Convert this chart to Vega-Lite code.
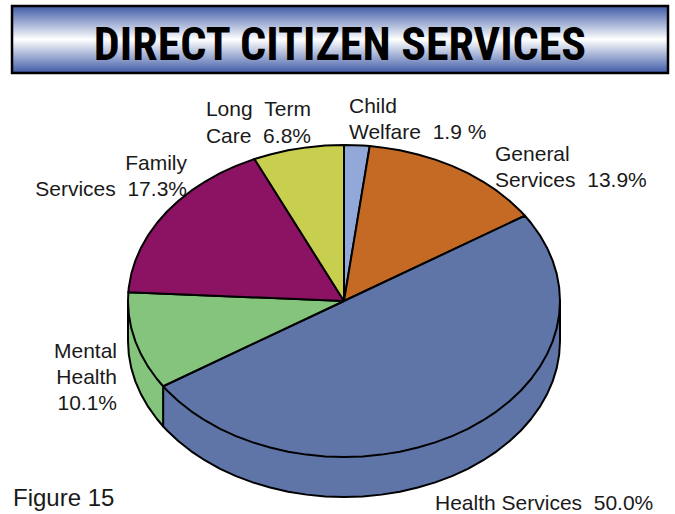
{
  "$schema": "https://vega.github.io/schema/vega-lite/v6.json",
  "width": 675,
  "height": 514,
  "padding": 0,
  "autosize": {"type": "fit", "contains": "padding"},
  "background": "white",
  "view": {"stroke": null},
  "projection": {"type": "identity", "reflectY": true, "scale": 216, "translate": [344, 301]},
  "datasets": {
    "side": [
      {"type": "Feature", "properties": {"slice": "Health Services", "share": 50.0}, "geometry": {"type": "Polygon", "coordinates": [[[1,0],[1,-0.1852],[0.9962,-0.2481],[0.9848,-0.3106],[0.9659,-0.3721],[0.9397,-0.4322],[0.9063,-0.4904],[0.866,-0.5463],[0.8192,-0.5994],[0.766,-0.6494],[0.7071,-0.6959],[0.6428,-0.7384],[0.5736,-0.7768],[0.5,-0.8106],[0.4226,-0.8397],[0.342,-0.8638],[0.2588,-0.8828],[0.1736,-0.8964],[0.0872,-0.9047],[0,-0.9074],[-0.0872,-0.9047],[-0.1736,-0.8964],[-0.2588,-0.8828],[-0.342,-0.8638],[-0.4226,-0.8397],[-0.5,-0.8106],[-0.5736,-0.7768],[-0.6428,-0.7384],[-0.7071,-0.6959],[-0.766,-0.6494],[-0.8192,-0.5994],[-0.8375,-0.5799],[-0.8375,-0.3947],[-0.5,-0.6254],[0,-0.7222],[0.5,-0.6254],[0.866,-0.3611],[1,0]]]}},
      {"type": "Feature", "properties": {"slice": "Mental Health", "share": 10.1}, "geometry": {"type": "Polygon", "coordinates": [[[-0.8375,-0.5799],[-0.866,-0.5463],[-0.9063,-0.4904],[-0.9397,-0.4322],[-0.9659,-0.3721],[-0.9848,-0.3106],[-0.9962,-0.2481],[-1,-0.1852],[-1,0],[-0.8375,-0.3947],[-0.8375,-0.5799]]]}}
    ],
    "slices": [
      {"type": "Feature", "properties": {"slice": "Child Welfare", "share": 1.9}, "geometry": {"type": "Polygon", "coordinates": [[[0,0],[0,0.7222],[0.0872,0.7195],[0.1191,0.7171],[0,0]]]}},
      {"type": "Feature", "properties": {"slice": "General Services", "share": 13.9}, "geometry": {"type": "Polygon", "coordinates": [[[0,0],[0.1191,0.7171],[0.1736,0.7112],[0.2588,0.6976],[0.342,0.6786],[0.4226,0.6545],[0.5,0.6254],[0.5736,0.5916],[0.6428,0.5532],[0.7071,0.5107],[0.766,0.4642],[0.8192,0.4142],[0.8375,0.3947],[0,0]]]}},
      {"type": "Feature", "properties": {"slice": "Health Services", "share": 50.0}, "geometry": {"type": "Polygon", "coordinates": [[[0,0],[0.8375,0.3947],[0.866,0.3611],[0.9063,0.3052],[0.9397,0.247],[0.9659,0.1869],[0.9848,0.1254],[0.9962,0.0629],[1,0],[0.9962,-0.0629],[0.9848,-0.1254],[0.9659,-0.1869],[0.9397,-0.247],[0.9063,-0.3052],[0.866,-0.3611],[0.8192,-0.4142],[0.766,-0.4642],[0.7071,-0.5107],[0.6428,-0.5532],[0.5736,-0.5916],[0.5,-0.6254],[0.4226,-0.6545],[0.342,-0.6786],[0.2588,-0.6976],[0.1736,-0.7112],[0.0872,-0.7195],[0,-0.7222],[-0.0872,-0.7195],[-0.1736,-0.7112],[-0.2588,-0.6976],[-0.342,-0.6786],[-0.4226,-0.6545],[-0.5,-0.6254],[-0.5736,-0.5916],[-0.6428,-0.5532],[-0.7071,-0.5107],[-0.766,-0.4642],[-0.8192,-0.4142],[-0.8375,-0.3947],[0,0]]]}},
      {"type": "Feature", "properties": {"slice": "Mental Health", "share": 10.1}, "geometry": {"type": "Polygon", "coordinates": [[[0,0],[-0.8375,-0.3947],[-0.866,-0.3611],[-0.9063,-0.3052],[-0.9397,-0.247],[-0.9659,-0.1869],[-0.9848,-0.1254],[-0.9962,-0.0629],[-1,0],[-0.9984,0.0408],[0,0]]]}},
      {"type": "Feature", "properties": {"slice": "Family Services", "share": 17.3}, "geometry": {"type": "Polygon", "coordinates": [[[0,0],[-0.9984,0.0408],[-0.9962,0.0629],[-0.9848,0.1254],[-0.9659,0.1869],[-0.9397,0.247],[-0.9063,0.3052],[-0.866,0.3611],[-0.8192,0.4142],[-0.766,0.4642],[-0.7071,0.5107],[-0.6428,0.5532],[-0.5736,0.5916],[-0.5,0.6254],[-0.4226,0.6545],[-0.4144,0.6573],[0,0]]]}},
      {"type": "Feature", "properties": {"slice": "Long Term Care", "share": 6.8}, "geometry": {"type": "Polygon", "coordinates": [[[0,0],[-0.4144,0.6573],[-0.342,0.6786],[-0.2588,0.6976],[-0.1736,0.7112],[-0.0872,0.7195],[0,0.7222],[0,0]]]}}
    ]
  },
  "layer": [
    {
      "description": "Title banner",
      "data": {"values": [{"type": "Feature", "properties": {"name": "banner"}, "geometry": {"type": "Polygon", "coordinates": [[[-1.537,1.3657],[1.5,1.3657],[1.5,1.0556],[-1.537,1.0556],[-1.537,1.3657]]]}}]},
      "mark": {
        "type": "geoshape",
        "stroke": "#000000",
        "strokeWidth": 2.5,
        "fill": {
          "x1": 0, "y1": 0, "x2": 0, "y2": 1,
          "gradient": "linear",
          "stops": [
            {"offset": 0, "color": "#3f5ba6"},
            {"offset": 0.5, "color": "#ffffff"},
            {"offset": 1, "color": "#3f5ba6"}
          ]
        }
      }
    },
    {
      "description": "Rim of the pie, drawn below the top face",
      "data": {"name": "side"},
      "mark": {"type": "geoshape", "stroke": "#000000", "strokeWidth": 2, "strokeJoin": "round"},
      "encoding": {
        "color": {
          "field": "properties.slice", "type": "nominal", "legend": null,
          "scale": {
            "domain": ["Child Welfare", "General Services", "Health Services", "Mental Health", "Family Services", "Long Term Care"],
            "range": ["#92a8d8", "#c56a24", "#5f75a8", "#84c47c", "#8c1264", "#c8cf4e"]
          }
        }
      }
    },
    {
      "description": "Top face of the pie",
      "data": {"name": "slices"},
      "mark": {"type": "geoshape", "stroke": "#000000", "strokeWidth": 2, "strokeJoin": "round"},
      "encoding": {
        "color": {
          "field": "properties.slice", "type": "nominal", "legend": null,
          "scale": {
            "domain": ["Child Welfare", "General Services", "Health Services", "Mental Health", "Family Services", "Long Term Care"],
            "range": ["#92a8d8", "#c56a24", "#5f75a8", "#84c47c", "#8c1264", "#c8cf4e"]
          }
        }
      }
    },
    {
      "description": "Banner heading",
      "data": {"values": [{"label": "DIRECT CITIZEN SERVICES", "lon": -0.0185, "lat": 1.1157}]},
      "mark": {"type": "text", "align": "center", "baseline": "alphabetic", "font": "Roboto Condensed, Arial Narrow, DejaVu Sans Condensed, Liberation Sans", "fontWeight": "bold", "fontSize": 46, "color": "#000000"},
      "encoding": {
        "longitude": {"field": "lon", "type": "quantitative"},
        "latitude": {"field": "lat", "type": "quantitative"},
        "text": {"field": "label"}
      }
    },
    {
      "description": "Labels that start at their anchor",
      "data": {"values": [
        {"label": "Child", "lon": 0.0231, "lat": 0.8704},
        {"label": "Welfare\u00a0\u00a01.9\u00a0%", "lon": 0.0231, "lat": 0.75},
        {"label": "General", "lon": 0.6991, "lat": 0.6481},
        {"label": "Services\u00a0\u00a013.9%", "lon": 0.6991, "lat": 0.5278},
        {"label": "Health Services\u00a0\u00a050.0%", "lon": 0.4213, "lat": -0.9676}
      ]},
      "mark": {"type": "text", "align": "left", "baseline": "alphabetic", "font": "Liberation Sans", "fontSize": 21, "color": "#1a1a1a"},
      "encoding": {
        "longitude": {"field": "lon", "type": "quantitative"},
        "latitude": {"field": "lat", "type": "quantitative"},
        "text": {"field": "label"}
      }
    },
    {
      "description": "Figure caption",
      "data": {"values": [{"label": "Figure 15", "lon": -1.5324, "lat": -0.9491}]},
      "mark": {"type": "text", "align": "left", "baseline": "alphabetic", "font": "Liberation Sans", "fontSize": 24, "color": "#1a1a1a"},
      "encoding": {
        "longitude": {"field": "lon", "type": "quantitative"},
        "latitude": {"field": "lat", "type": "quantitative"},
        "text": {"field": "label"}
      }
    },
    {
      "description": "Labels that end at their anchor",
      "data": {"values": [
        {"label": "Long\u00a0\u00a0Term", "lon": -0.1528, "lat": 0.8565},
        {"label": "Care\u00a0\u00a06.8%", "lon": -0.1528, "lat": 0.7315},
        {"label": "Family", "lon": -0.7269, "lat": 0.6065},
        {"label": "Services\u00a0\u00a017.3%", "lon": -0.7269, "lat": 0.4861},
        {"label": "Mental", "lon": -1.0509, "lat": -0.2639},
        {"label": "Health", "lon": -1.0509, "lat": -0.3843},
        {"label": "10.1%", "lon": -1.0509, "lat": -0.5046}
      ]},
      "mark": {"type": "text", "align": "right", "baseline": "alphabetic", "font": "Liberation Sans", "fontSize": 21, "color": "#1a1a1a"},
      "encoding": {
        "longitude": {"field": "lon", "type": "quantitative"},
        "latitude": {"field": "lat", "type": "quantitative"},
        "text": {"field": "label"}
      }
    }
  ]
}
